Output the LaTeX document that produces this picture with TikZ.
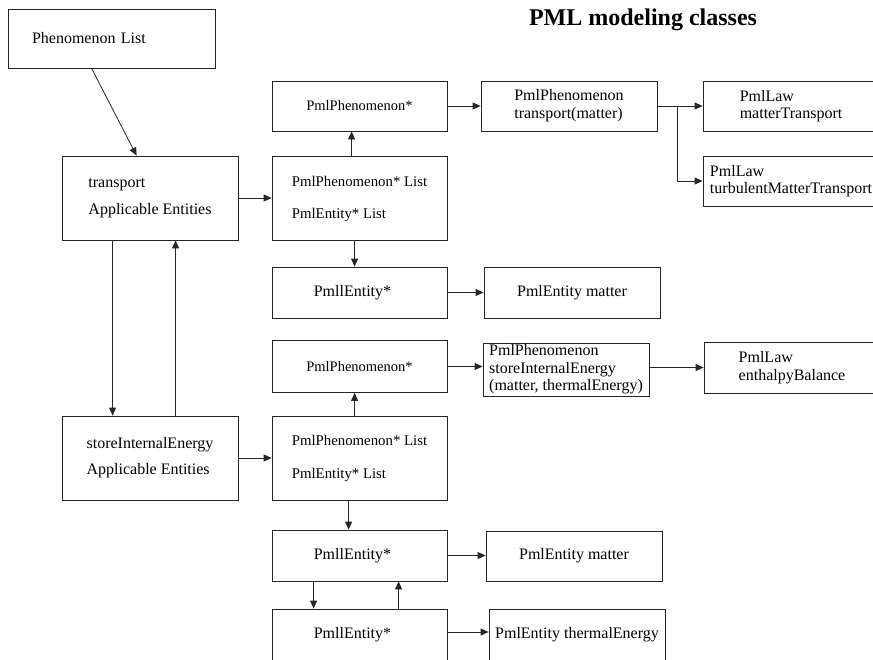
\documentclass[tikz,border=0pt]{standalone}
\usepackage{fontspec}
\setmainfont{Liberation Serif}
\usetikzlibrary{arrows.meta}
\newcommand\pmlsize[2]{\fontsize{#1}{#2}\selectfont}
\begin{document}
\begin{tikzpicture}[x=1pt,y=-1pt,
  box/.style={draw=black!85, line width=0.8pt, inner sep=0pt, align=center,
              font=\pmlsize{16}{18}},
  listbox/.style={box, align=left, minimum width=175pt, minimum height=84pt},
  arr/.style={draw=black!85, line width=0.8pt, -{Triangle[length=8pt,width=7pt]}},
  wire/.style={draw=black!85, line width=0.8pt}]
\clip (0,0) rectangle (873,659);

% title
\node[font=\bfseries\pmlsize{24}{28}, anchor=base] (title) at (643,25) {PML modeling classes};

% left column
\node[box, align=left, text width=159pt, inner xsep=24pt, minimum height=59pt]
  (pl) at (111.5,38.5) {Phenomenon List};
\node[box, align=left, minimum width=176pt, minimum height=84pt, font=\pmlsize{16}{27}]
  (tr) at (150,198) {transport\\Applicable Entities};
\node[box, align=left, minimum width=176pt, minimum height=84pt, font=\pmlsize{16}{26}]
  (sie) at (150,458) {storeInternalEnergy\\Applicable Entities};

% transport group
\node[box, minimum width=175pt, minimum height=50pt, font=\pmlsize{14.5}{17}]
  (p1) at (359.5,106) {PmlPhenomenon*};
\node[listbox, font=\pmlsize{14.8}{32}]
  (l1) at (359.5,198.5) {PmlPhenomenon* List\\PmlEntity* List};
\node[box, minimum width=175pt, minimum height=51pt]
  (e1) at (359.5,292.5) {PmllEntity*\hspace{14pt}};
\node[box, align=left, minimum width=176pt, minimum height=50pt]
  (ptr) at (569,106) {PmlPhenomenon\\transport(matter)};
\node[box, align=left, minimum width=176pt, minimum height=50pt, font=\pmlsize{16}{17.5}]
  (law1) at (791,106) {PmlLaw\\matterTransport};
\node[box, align=left, minimum width=176pt, minimum height=50pt, font=\pmlsize{16}{17.5}]
  (law2) at (791,181) {PmlLaw\\turbulentMatterTransport};
\node[box, minimum width=176pt, minimum height=51pt]
  (em1) at (572,292.5) {PmlEntity matter};

% storeInternalEnergy group
\node[box, minimum width=175pt, minimum height=52pt, font=\pmlsize{14.5}{17}]
  (p2) at (359.5,366.5) {PmlPhenomenon*};
\node[listbox, font=\pmlsize{14.8}{33}]
  (l2) at (359.5,458) {PmlPhenomenon* List\\PmlEntity* List};
\node[box, minimum width=175pt, minimum height=51pt]
  (e3) at (359.5,555.5) {PmllEntity*\hspace{14pt}};
\node[box, minimum width=175pt, minimum height=52pt]
  (e4) at (359.5,635) {\raisebox{3pt}{PmllEntity*}\hspace{14pt}};
\node[box, align=left, minimum width=166pt, minimum height=53pt, font=\pmlsize{16}{17.5}]
  (psie) at (566,369.5) {PmlPhenomenon\\storeInternalEnergy\\(matter, thermalEnergy)};
\node[box, align=left, minimum width=176pt, minimum height=51pt, font=\pmlsize{16}{18}]
  (law3) at (792,367.5) {PmlLaw\\enthalpyBalance};
\node[box, minimum width=176pt, minimum height=50pt]
  (em2) at (574,556) {PmlEntity matter};
\node[box, minimum width=176pt, minimum height=52pt]
  (te) at (577,635) {\raisebox{3pt}{PmlEntity thermalEnergy}};

% connectors: left column
\draw[arr] ([xshift=84pt]pl.south west) -- ([xshift=75pt]tr.north west);
\draw[arr] (tr.east) -- (tr.east -| l1.west);
\draw[arr] ([xshift=51pt]tr.south west) -- ([xshift=51pt]sie.north west);
\draw[arr] ([xshift=114pt]sie.north west) -- ([xshift=114pt]tr.south west);
\draw[arr] (sie.east) -- (sie.east -| l2.west);

% connectors: transport group
\draw[arr] ([xshift=80pt]l1.north west) -- ([xshift=80pt]p1.south west);
\draw[arr] ([xshift=83pt]l1.south west) -- ([xshift=83pt]e1.north west);
\draw[arr] (p1.east) -- (ptr.west);
\coordinate (fork) at ([xshift=20pt]ptr.east);
\draw[wire] (ptr.east) -- (fork);
\draw[arr] (fork) -- (law1.west);
\draw[arr] (fork) |- (law2.west);
\draw[arr] (e1.east) -- (em1.west);

% connectors: storeInternalEnergy group
\draw[arr] ([xshift=83pt]l2.north west) -- ([xshift=83pt]p2.south west);
\draw[arr] ([xshift=77pt]l2.south west) -- ([xshift=77pt]e3.north west);
\draw[arr] (p2.east) -- (p2.east -| psie.west);
\draw[arr] (law3.west -| psie.east) -- (law3.west);
\draw[arr] (e3.east) -- (e3.east -| em2.west);
\draw[arr] ([xshift=42pt]e3.south west) -- ([xshift=42pt]e4.north west);
\draw[arr] ([xshift=127pt]e4.north west) -- ([xshift=127pt]e3.south west);
\draw[arr] ([yshift=3pt]e4.east) -- ([yshift=3pt]e4.east -| te.west);
\end{tikzpicture}
\end{document}
